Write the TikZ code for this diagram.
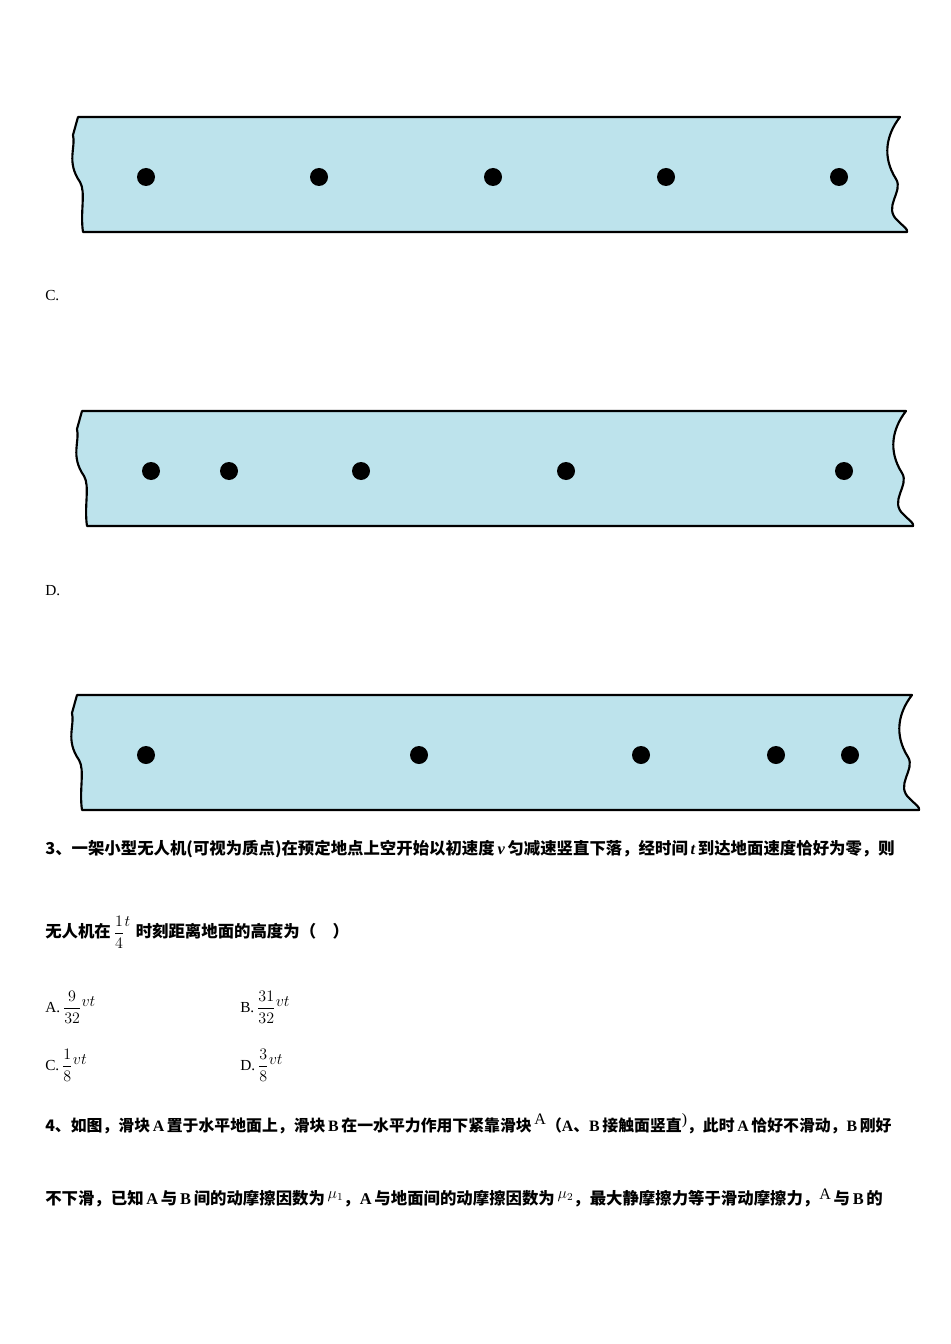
\documentclass[tikz,border=0pt]{standalone}
\usepackage{amsmath}
\usepackage{fontspec}
\setmainfont{Liberation Serif}
\newfontfamily\cjk{Noto Sans CJK SC}
\definecolor{stripblue}{HTML}{BDE3EC}
\newcommand{\tapestrip}[3]{% left x, right x, top y
  \draw[line width=1.6pt,fill=stripblue,line join=round]
    (#1,#3) -- (#2,#3)
    .. controls ({#2-14},{#3+18}) and ({#2-18},{#3+40}) .. ({#2-4},{#3+62})
    .. controls ({#2+4},{#3+75}) and ({#2-18},{#3+90}) .. ({#2-2},{#3+104})
    .. controls ({#2+4},{#3+110}) and ({#2+8},{#3+112}) .. ({#2+7},{#3+115})
    -- ({#1+5},{#3+115})
    .. controls ({#1+2},{#3+95}) and ({#1+8},{#3+75}) .. ({#1+2},{#3+65})
    .. controls ({#1-12},{#3+45}) and ({#1-2},{#3+30}) .. ({#1-5},{#3+18})
    -- cycle;}
\tikzset{dot/.style={circle,fill=black,inner sep=0pt,minimum size=13.5pt},
  txt/.style={anchor=west,inner sep=0pt,font=\fontsize{12.3}{14}\selectfont\bfseries\cjk},
  lab/.style={anchor=west,inner sep=0pt,font=\fontsize{11.5}{13}\selectfont}}
\begin{document}
\begin{tikzpicture}[x=0.75pt,y=-0.75pt]
\useasboundingbox[fill=white] (0,0) rectangle (950,1344);
\tapestrip{78}{900}{117}
\foreach \x [count=\i] in {146,319,493,666,839} \node[dot] (a\i) at (\x,177) {};
\node[lab] (lc) at (45,296) {C.};
\tapestrip{82}{906}{411}
\foreach \x [count=\i] in {151,229,361,566,844} \node[dot] (b\i) at (\x,471) {};
\node[lab] (ld) at (45,591) {D.};
\tapestrip{77}{912}{695}
\foreach \x [count=\i] in {146,419,641,776,850} \node[dot] (c\i) at (\x,755) {};
\node[txt] (q3) at (45,849) {3、一架小型无人机(可视为质点)在预定地点上空开始以初速度\,{\rmfamily\itshape v}\,匀减速竖直下落，经时间\,{\rmfamily\itshape t}\,到达地面速度恰好为零，则};
\node[txt] (q3b) at (45,932) {无人机在\,{\rmfamily\mdseries$\dfrac{1}{4}\raisebox{8pt}{$t$}$}\,\,时刻距离地面的高度为（\quad）};
\node[lab] (oa) at (45,1007) {A.\,$\dfrac{9}{32}\raisebox{4pt}{$vt$}$};
\node[lab] (ob) at (240,1007) {B.\,$\dfrac{31}{32}\raisebox{4pt}{$vt$}$};
\node[lab] (oc) at (45,1065) {C.\,$\dfrac{1}{8}\raisebox{4pt}{$vt$}$};
\node[lab] (od) at (240,1065) {D.\,$\dfrac{3}{8}\raisebox{4pt}{$vt$}$};
\node[txt,font=\fontsize{11.9}{14}\selectfont\bfseries\cjk] (q4) at (45,1124) {4、如图，滑块\,{\rmfamily A}\,置于水平地面上，滑块\,{\rmfamily B}\,在一水平力作用下紧靠滑块\,{\rmfamily\mdseries\raisebox{5pt}{\large A}}（{\rmfamily A}、{\rmfamily B}\,接触面竖直{\rmfamily\mdseries\raisebox{5pt}{)}}，此时\,{\rmfamily A}\,恰好不滑动，{\rmfamily B}\,刚好};
\node[txt] (q4b) at (45,1198) {不下滑，已知\,{\rmfamily A}\,与\,{\rmfamily B}\,间的动摩擦因数为\,\raisebox{5pt}{\large$\mu_1$}，{\rmfamily A}\,与地面间的动摩擦因数为\,\raisebox{5pt}{\large$\mu_2$}，最大静摩擦力等于滑动摩擦力，{\rmfamily\mdseries\raisebox{4pt}{\large A}}\,与\,{\rmfamily B}\,的};
\end{tikzpicture}
\end{document}
